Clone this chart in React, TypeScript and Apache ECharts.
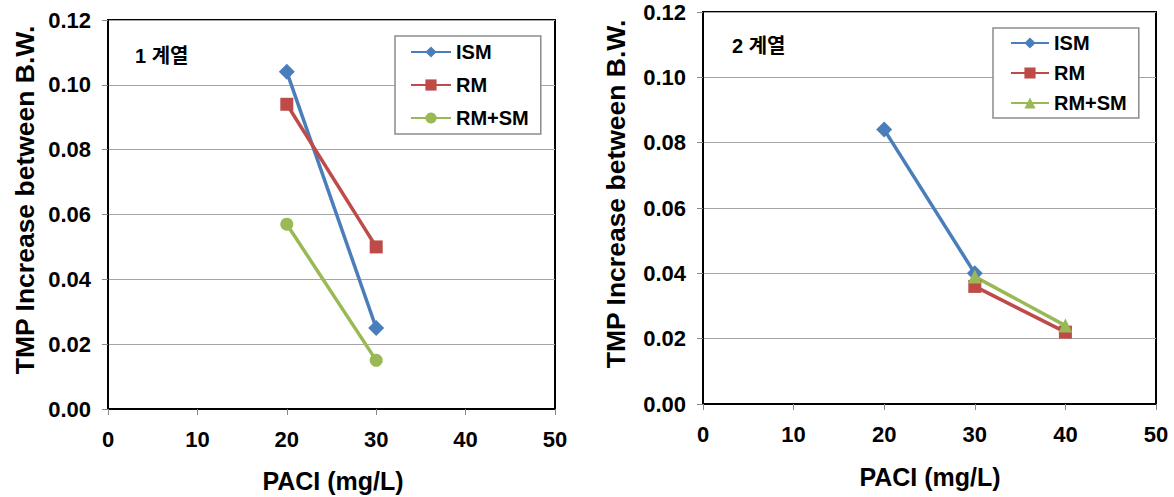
import React, { useEffect, useRef } from "react";
import * as echarts from "echarts";

const seriesNames = ["ISM", "RM", "RM+SM"];

// Chart 1 (1 계열)
const ism1X = [20, 30];
const ism1Y = [0.104, 0.025];
const rm1X = [20, 30];
const rm1Y = [0.094, 0.05];
const rmsm1X = [20, 30];
const rmsm1Y = [0.057, 0.015];

// Chart 2 (2 계열)
const ism2X = [20, 30];
const ism2Y = [0.084, 0.04];
const rm2X = [30, 40];
const rm2Y = [0.036, 0.022];
const rmsm2X = [30, 40];
const rmsm2Y = [0.039, 0.024];

const xTitle = "PACI (mg/L)";
const yTitle = "TMP Increase between B.W.";
const panelLabels = ["1 계열", "2 계열"];

const BLUE = "#4a7ebb";
const RED = "#be4b48";
const GREEN = "#98b954";
const FONT = '"Liberation Sans", Arial, sans-serif';
const KFONT = '"Liberation Sans", "Noto Sans CJK KR", sans-serif';

const pairs = (xs: number[], ys: number[]) => xs.map((x, i) => [x, ys[i]]);

function makeXAxis(gridIndex: number) {
  return {
    type: "value",
    gridIndex,
    min: 0,
    max: 50,
    interval: 10,
    axisLine: { show: true, onZero: false, lineStyle: { color: "#000", width: 2 } },
    axisTick: { show: true, length: 6, lineStyle: { color: "#888", width: 1 } },
    axisLabel: {
      margin: 19,
      color: "#000",
      fontSize: 22,
      fontWeight: "bold",
      fontFamily: FONT,
    },
    splitLine: { show: false },
  };
}

function makeYAxis(gridIndex: number) {
  return {
    type: "value",
    gridIndex,
    min: 0,
    max: 0.12,
    interval: 0.02,
    axisLine: { show: true, onZero: false, lineStyle: { color: "#000", width: 2 } },
    axisTick: { show: true, length: 6, lineStyle: { color: "#888", width: 1 } },
    axisLabel: {
      margin: 17,
      color: "#000",
      fontSize: 22,
      fontWeight: "bold",
      fontFamily: FONT,
      formatter: (v: number) => v.toFixed(2),
    },
    splitLine: { show: true, lineStyle: { color: "#a6a6a6", width: 1.2 } },
  };
}

function lineSeries(
  name: string,
  idx: number,
  data: number[][],
  color: string,
  symbol: string,
  symbolSize: number
) {
  return {
    type: "line",
    name,
    xAxisIndex: idx,
    yAxisIndex: idx,
    data,
    color,
    symbol,
    symbolSize,
    lineStyle: { color, width: 3.5 },
    itemStyle: { color },
    z: 5,
  };
}

export default function App() {
  const ref = useRef<HTMLDivElement>(null);

  useEffect(() => {
    if (!ref.current) return;
    const chart = echarts.init(ref.current, undefined, { renderer: "svg" });
    const legendText = {
      color: "#000",
      fontSize: 20,
      fontWeight: "bold",
      fontFamily: FONT,
    };
    const option = {
      animation: false,
      backgroundColor: "#fff",
      grid: [
        { left: 108, top: 20, width: 447, height: 389, show: true, borderColor: "#000", borderWidth: 2, backgroundColor: "transparent" },
        { left: 703, top: 12, width: 453, height: 392, show: true, borderColor: "#000", borderWidth: 2, backgroundColor: "transparent" },
      ],
      xAxis: [makeXAxis(0), makeXAxis(1)],
      yAxis: [makeYAxis(0), makeYAxis(1)],
      legend: [
        {
          data: seriesNames,
          orient: "vertical",
          left: 395,
          top: 36,
          padding: [6, 12, 6, 15],
          itemGap: 13,
          itemWidth: 40,
          itemHeight: 14,
          backgroundColor: "#fff",
          borderColor: "#8c8c8c",
          borderWidth: 1.5,
          textStyle: legendText,
          selectedMode: false,
        },
        {
          data: seriesNames.map((n) => n + "#2"),
          formatter: (n: string) => n.replace("#2", ""),
          orient: "vertical",
          left: 993,
          top: 28,
          padding: [5, 12, 5, 17],
          itemGap: 10,
          itemWidth: 38,
          itemHeight: 14,
          backgroundColor: "#fff",
          borderColor: "#8c8c8c",
          borderWidth: 1.5,
          textStyle: legendText,
          selectedMode: false,
        },
      ],
      series: [
        lineSeries(seriesNames[0], 0, pairs(ism1X, ism1Y), BLUE, "diamond", 16),
        lineSeries(seriesNames[1], 0, pairs(rm1X, rm1Y), RED, "rect", 13),
        lineSeries(seriesNames[2], 0, pairs(rmsm1X, rmsm1Y), GREEN, "circle", 13),
        lineSeries(seriesNames[0] + "#2", 1, pairs(ism2X, ism2Y), BLUE, "diamond", 16),
        lineSeries(seriesNames[1] + "#2", 1, pairs(rm2X, rm2Y), RED, "rect", 13),
        lineSeries(seriesNames[2] + "#2", 1, pairs(rmsm2X, rmsm2Y), GREEN, "triangle", 14),
      ],
      graphic: [
        {
          type: "text",
          x: 25,
          y: 200,
          rotation: Math.PI / 2,
          style: { text: yTitle, textAlign: "center", textVerticalAlign: "middle", fontSize: 26.5, fontWeight: "bold", fontFamily: FONT, fill: "#000" },
        },
        {
          type: "text",
          x: 616,
          y: 194,
          rotation: Math.PI / 2,
          style: { text: yTitle, textAlign: "center", textVerticalAlign: "middle", fontSize: 26.5, fontWeight: "bold", fontFamily: FONT, fill: "#000" },
        },
        {
          type: "text",
          x: 333,
          y: 481,
          style: { text: xTitle, textAlign: "center", textVerticalAlign: "middle", fontSize: 25, fontWeight: "bold", fontFamily: FONT, fill: "#000" },
        },
        {
          type: "text",
          x: 930,
          y: 477,
          style: { text: xTitle, textAlign: "center", textVerticalAlign: "middle", fontSize: 25, fontWeight: "bold", fontFamily: FONT, fill: "#000" },
        },
        {
          type: "text",
          x: 135,
          y: 56,
          style: { text: panelLabels[0], textAlign: "left", textVerticalAlign: "middle", fontSize: 20, fontWeight: "bold", fontFamily: KFONT, fill: "#000" },
        },
        {
          type: "text",
          x: 732,
          y: 46,
          style: { text: panelLabels[1], textAlign: "left", textVerticalAlign: "middle", fontSize: 20, fontWeight: "bold", fontFamily: KFONT, fill: "#000" },
        },
      ],
    };
    chart.setOption(option as any);
    return () => chart.dispose();
  }, []);

  return (
    <div
      ref={ref}
      style={{ position: "absolute", left: 0, top: 0, width: 1174, height: 497 }}
    />
  );
}
